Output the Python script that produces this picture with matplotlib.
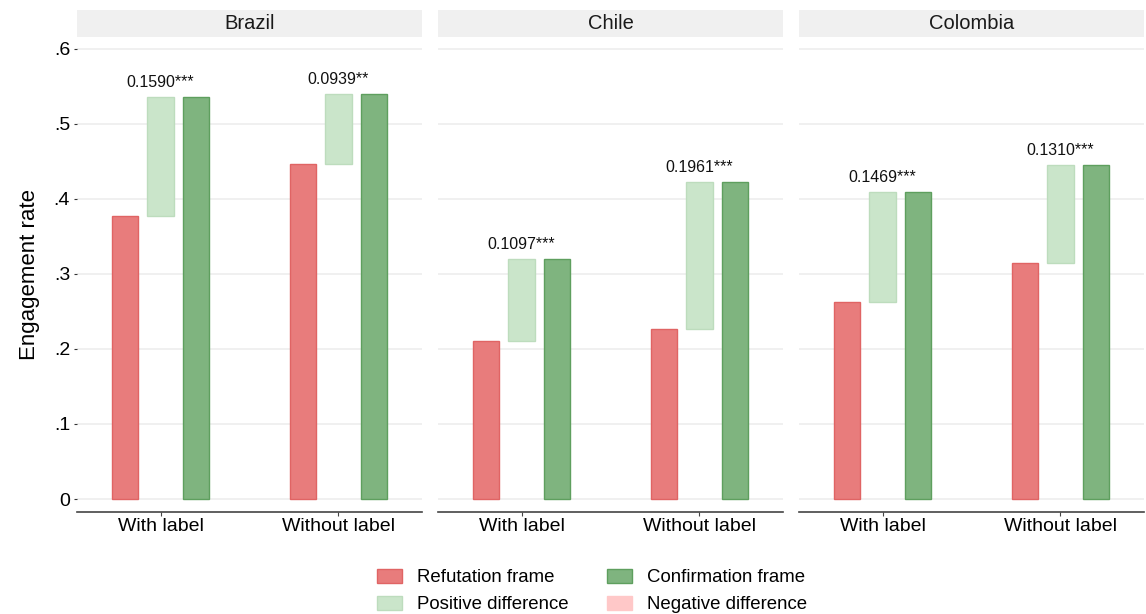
import matplotlib.pyplot as plt
from matplotlib.patches import Patch

plt.rcParams['font.family'] = ['Liberation Sans', 'DejaVu Sans']

# donnees par pays
pays = ['Brazil', 'Chile', 'Colombia']
categories = ['With label', 'Without label']
refutation = {'Brazil': [0.377, 0.446], 'Chile': [0.2103, 0.2266], 'Colombia': [0.2625, 0.3143]}
difference = {'Brazil': [0.1590, 0.0939], 'Chile': [0.1097, 0.1961], 'Colombia': [0.1469, 0.1310]}
etoiles = {'Brazil': ['***', '**'], 'Chile': ['***', '***'], 'Colombia': ['***', '***']}

rouge, rouge_bord = '#e87c7c', '#e06464'
vert, vert_bord = '#7fb47f', '#5e9f5e'
vert_clair, vert_clair_bord = '#cae5ca', '#bddcbd'
rose = '#ffc8c8'

fig = plt.figure(figsize=(11.46, 6.14), dpi=100)
W, H = 1146, 614
gauches = [77, 438, 799]
largeur = 345
bas, haut = 512, 36.7

larg_barre = 0.148
decal = 0.2
x = [1, 2]

for k, p in enumerate(pays):
    ax = fig.add_axes([gauches[k] / W, 1 - bas / H, largeur / W, (bas - haut) / H])
    # bandeau du titre
    bandeau = fig.add_axes([gauches[k] / W, 1 - haut / H, largeur / W, (haut - 10) / H])
    bandeau.set_facecolor('#f0f0f0')
    bandeau.set_xticks([])
    bandeau.set_yticks([])
    for s in bandeau.spines.values():
        s.set_visible(False)
    bandeau.text(0.5, 0.5, p, ha='center', va='center', fontsize=14.5, color='#1a1a1a', transform=bandeau.transAxes)

    ref = refutation[p]
    conf = [r + d for r, d in zip(ref, difference[p])]
    ax.bar([xi - decal for xi in x], ref, width=larg_barre, color=rouge, edgecolor=rouge_bord, linewidth=1, zorder=3)
    ax.bar(x, [c - r for r, c in zip(ref, conf)], bottom=ref, width=larg_barre, color=vert_clair,
           edgecolor=vert_clair_bord, linewidth=1, zorder=3)
    ax.bar([xi + decal for xi in x], conf, width=larg_barre, color=vert, edgecolor=vert_bord, linewidth=1, zorder=3)
    for i, xi in enumerate(x):
        ax.text(xi, conf[i] + 0.009, f'{difference[p][i]:.4f}' + etoiles[p][i], ha='center', va='bottom',
                fontsize=11.5, color='#111111')

    ax.set_xlim(0.53, 2.47)
    ax.set_ylim(-0.0173, 0.616)
    ax.set_yticks([0, 0.1, 0.2, 0.3, 0.4, 0.5, 0.6])
    ax.grid(axis='y', color='#efefef', linewidth=1.3, zorder=0)
    ax.set_xticks(x)
    ax.set_xticklabels(categories, fontsize=14)
    ax.tick_params(axis='x', length=3, width=0.8, color='#444444', pad=1)
    for s in ['top', 'right', 'left']:
        ax.spines[s].set_visible(False)
    ax.spines['bottom'].set_color('#444444')
    ax.spines['bottom'].set_linewidth(1.2)
    if k == 0:
        ax.set_yticklabels(['0', '.1', '.2', '.3', '.4', '.5', '.6'], fontsize=14)
        ax.tick_params(axis='y', length=2, width=0.8, color='#333333', pad=3)
        ax.set_ylabel('Engagement rate', fontsize=16, labelpad=10)
    else:
        ax.tick_params(axis='y', length=0, labelleft=False)

elements = [Patch(facecolor=rouge, edgecolor=rouge_bord, label='Refutation frame'),
            Patch(facecolor=vert_clair, edgecolor=vert_clair_bord, label='Positive difference'),
            Patch(facecolor=vert, edgecolor=vert_bord, label='Confirmation frame'),
            Patch(facecolor=rose, edgecolor=rose, label='Negative difference')]
fig.legend(handles=elements, ncol=2, loc='upper center', bbox_to_anchor=(592 / W, 1 - 552 / H), frameon=False,
           fontsize=13.4, handlelength=1.35, handleheight=0.8, columnspacing=2.1, labelspacing=0.5, handletextpad=0.8)

fig.savefig('out.png', dpi=100)
